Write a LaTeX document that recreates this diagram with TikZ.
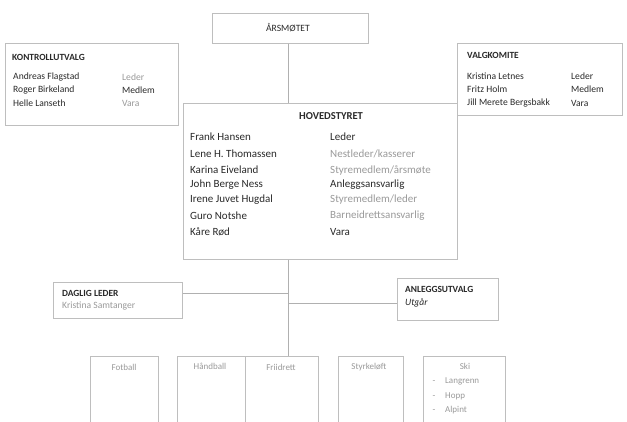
\documentclass[tikz,border=0pt]{standalone}
\usepackage{fontspec}
\setmainfont{Carlito}
\definecolor{boxline}{HTML}{BEBEBE}
\definecolor{linkline}{HTML}{B0B0B0}
\definecolor{darktext}{HTML}{2A2A2A}
\definecolor{fadetext}{HTML}{9A9A9A}
\begin{document}
\begin{tikzpicture}[x=1pt,y=-1pt,
  box/.style={draw=boxline,line width=0.9pt,anchor=north west,inner sep=0pt},
  link/.style={draw=linkline,line width=0.8pt},
  txt/.style={anchor=west,inner sep=0pt,text=darktext,font=\fontsize{9.6}{10}\selectfont},
  ftxt/.style={txt,text=fadetext},
  title/.style={txt,font=\fontsize{9.4}{10}\selectfont\bfseries},
  htxt/.style={txt,font=\fontsize{11}{12}\selectfont},
  hftxt/.style={htxt,text=fadetext},
  sport/.style={anchor=center,inner sep=0pt,text=fadetext,font=\fontsize{9}{10}\selectfont}]
\useasboundingbox (0,0) rectangle (627,421);
\clip (0,0) rectangle (627,421);
\fill[white] (0,0) rectangle (627,421);

% Årsmøtet
\node[box,minimum width=156pt,minimum height=30pt] (aarsmote) at (212,13) {};
\node[anchor=center,inner sep=0pt,text=darktext,font=\fontsize{9.6}{10}\selectfont] (aarsmotet) at (288,28) {ÅRSMØTET};

% Kontrollutvalg
\node[box,minimum width=173pt,minimum height=82pt] (kontroll) at (5,43) {};
\node[title] (kt) at (12,57) {KONTROLLUTVALG};
\node[txt] (k1) at (13,77) {Andreas Flagstad};
\node[ftxt] (k1r) at (122,77) {Leder};
\node[txt] (k2) at (13,90) {Roger Birkeland};
\node[txt] (k2r) at (122,90) {Medlem};
\node[txt] (k3) at (13,103) {Helle Lanseth};
\node[ftxt] (k3r) at (122,103) {Vara};

% Valgkomite
\node[box,minimum width=165pt,minimum height=72pt] (valg) at (457,43) {};
\node[title] (vt) at (467,55) {VALGKOMITE};
\node[txt] (v1) at (467,76) {Kristina Letnes};
\node[txt] (v1r) at (571,76) {Leder};
\node[txt] (v2) at (467,89) {Fritz Holm};
\node[txt] (v2r) at (571,89) {Medlem};
\node[txt] (v3) at (467,103) {Jill Merete Bergsbakk};
\node[txt] (v3r) at (571,103) {Vara};

% Hovedstyret
\node[box,minimum width=274pt,minimum height=156pt] (hoved) at (183,103) {};
\node[anchor=center,inner sep=0pt,text=darktext,font=\fontsize{10.6}{11}\selectfont\bfseries] (ht) at (331,116) {HOVEDSTYRET};
\node[htxt] (h1) at (190,137) {Frank Hansen};
\node[htxt] (h1r) at (330,137) {Leder};
\node[htxt] (h2) at (190,154) {Lene H. Thomassen};
\node[hftxt] (h2r) at (330,154) {Nestleder/kasserer};
\node[htxt] (h3) at (190,170) {Karina Eiveland};
\node[hftxt] (h3r) at (330,170) {Styremedlem/årsmøte};
\node[htxt] (h4) at (190,185) {John Berge Ness};
\node[htxt] (h4r) at (330,185) {Anleggsansvarlig};
\node[htxt] (h5) at (190,200) {Irene Juvet Hugdal};
\node[hftxt] (h5r) at (330,200) {Styremedlem/leder};
\node[htxt] (h6) at (190,216) {Guro Notshe};
\node[hftxt] (h6r) at (330,216) {Barneidrettsansvarlig};
\node[htxt] (h7) at (190,232) {Kåre Rød};
\node[htxt] (h7r) at (330,232) {Vara};

% Daglig leder
\node[box,minimum width=129pt,minimum height=36pt] (daglig) at (53,282) {};
\node[title] (dt) at (62,293) {DAGLIG LEDER};
\node[ftxt] (d1) at (62,306) {Kristina Samtanger};

% Anleggsutvalg
\node[box,minimum width=101pt,minimum height=42pt] (anlegg) at (397,278) {};
\node[title] (at) at (405,289) {ANLEGGSUTVALG};
\node[txt,font=\fontsize{9.6}{10}\selectfont\itshape] (a1) at (405,303) {Utgår};

% Sports
\node[box,minimum width=68pt,minimum height=80pt] (fotball) at (90,356) {};
\node[box,minimum width=68pt,minimum height=80pt] (handball) at (177,356) {};
\node[box,minimum width=73pt,minimum height=80pt] (friidrett) at (245,356) {};
\node[box,minimum width=65pt,minimum height=80pt] (styrkeloft) at (338,356) {};
\node[box,minimum width=82pt,minimum height=80pt] (ski) at (423,356) {};
\node[sport] (fotballt) at (124,367) {Fotball};
\node[sport] (handballt) at (210,366) {Håndball};
\node[sport] (friidrettt) at (281,367) {Friidrett};
\node[sport] (styrkelofft) at (369,367) {Styrkeløft};
\node[sport] (skit) at (465,366) {Ski};
\node[sport,anchor=west] (ski1) at (445,381) {Langrenn};
\node[sport,anchor=west] (ski2) at (445,396) {Hopp};
\node[sport,anchor=west] (ski3) at (445,410) {Alpint};
\node[sport] (d1m) at (434,382) {-};
\node[sport] (d2m) at (434,397) {-};
\node[sport] (d3m) at (434,411) {-};

% Connectors
\coordinate (c1) at (288,293);
\coordinate (c2) at (288,303);
\draw[link] (aarsmote.south -| 288,0) -- (hoved.north -| 288,0);
\draw[link] (hoved.south -| 288,0) -- (friidrett.north -| 288,0);
\draw[link] (daglig.east |- c1) -- (c1);
\draw[link] (c2) -- (anlegg.west |- c2);
\end{tikzpicture}
\end{document}
